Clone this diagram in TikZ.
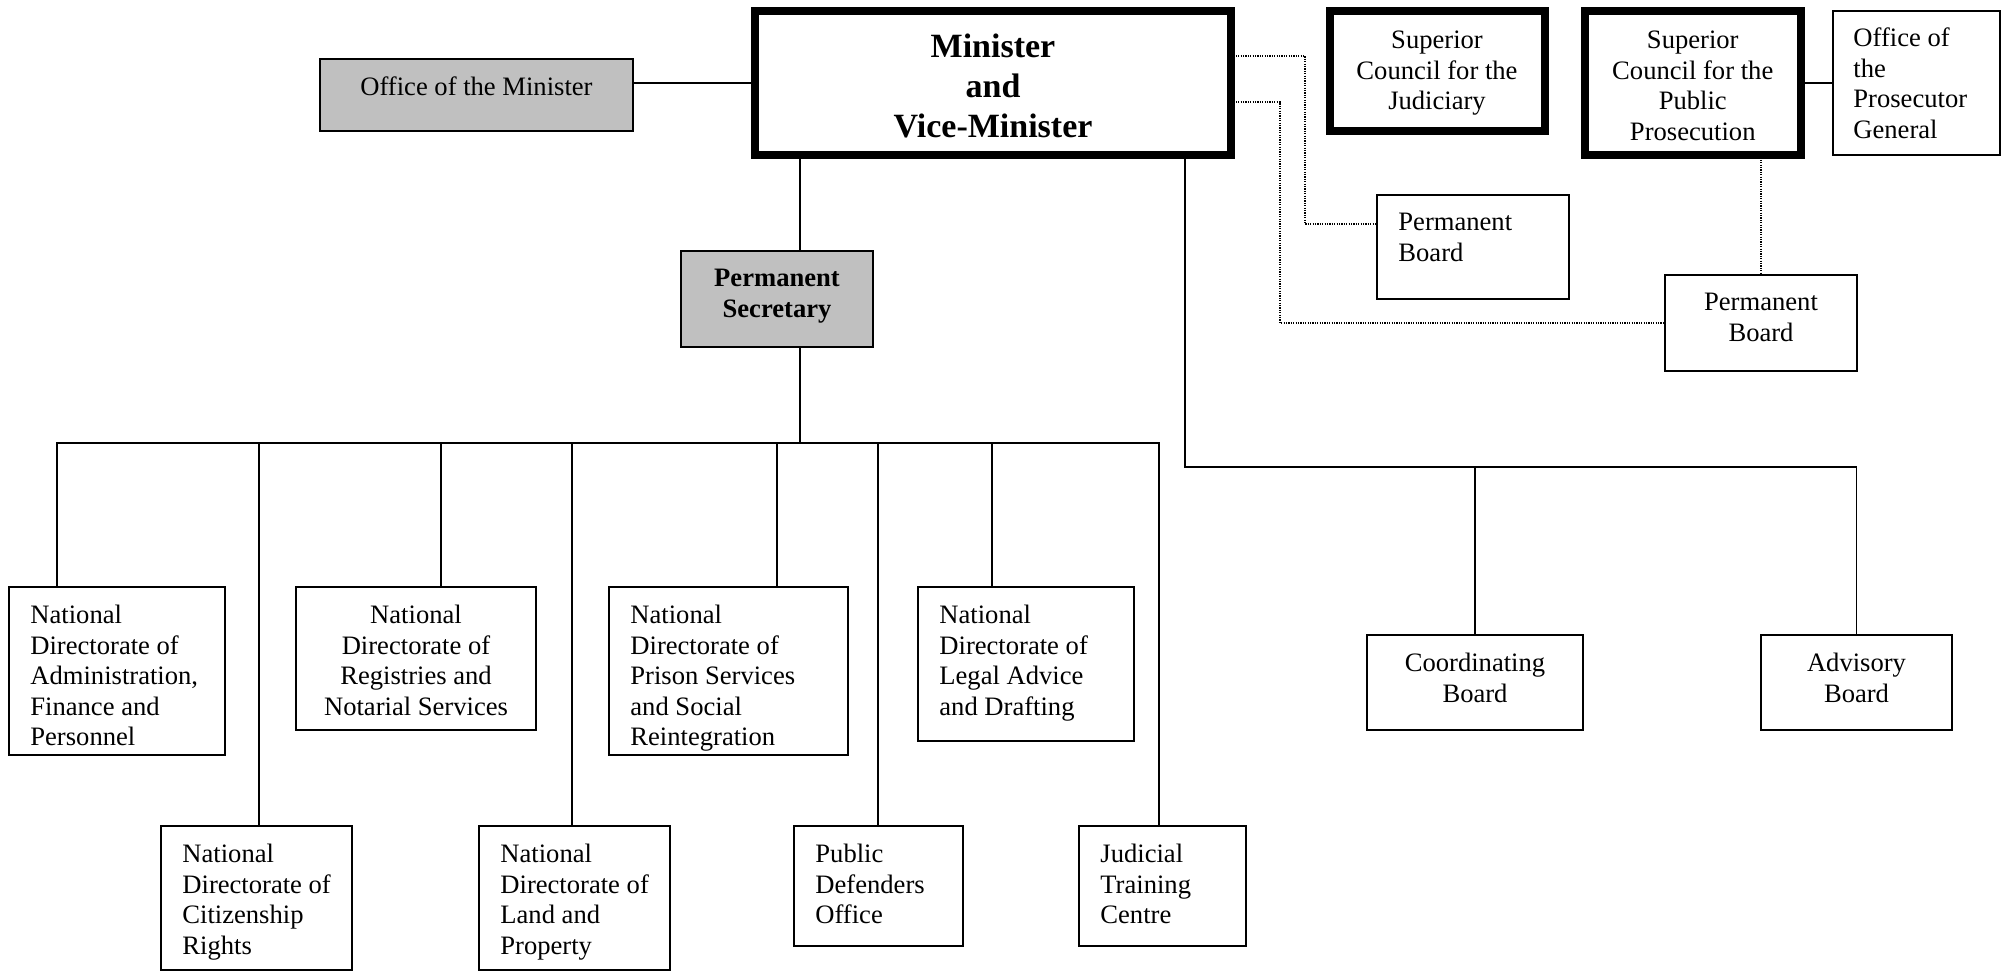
\documentclass[tikz,border=0pt]{standalone}
\usepackage{fontspec}
\setmainfont{Liberation Serif}
\usetikzlibrary{fit,calc}
\definecolor{boxgray}{RGB}{192,192,192}
\newcommand{\nf}{\fontsize{13.3pt}{15.3pt}\selectfont}
\newcommand{\mf}{\fontsize{17pt}{19.8pt}\selectfont\bfseries}
\begin{document}
\begin{tikzpicture}[x=0.5pt,y=-0.5pt,
  thinbox/.style={draw, line width=0.75pt, inner sep=0pt, outer sep=0pt},
  thickbox/.style={draw, line width=4pt, inner sep=0pt, outer sep=0pt},
  graybox/.style={thinbox, fill=boxgray},
  link/.style={line width=0.75pt},
  dotlink/.style={line width=0.6pt, dash pattern=on 0.6pt off 0.6pt},
  txtL/.style={anchor=north west, align=left, inner sep=0pt, font=\nf},
  txtC/.style={anchor=north, align=center, inner sep=0pt, font=\nf}]
\useasboundingbox (0,0) rectangle (2002,972);

% boxes
\node[thickbox, fit={(755,11) (1231,155)}] (min) {};
\node[graybox, fit={(320,59) (633,131)}] (om) {};
\node[thickbox, fit={(1329.5,11) (1544.5,131.5)}] (scj) {};
\node[thickbox, fit={(1585,11) (1800.5,155)}] (scpp) {};
\node[thinbox, fit={(1833,11) (2000,155)}] (opg) {};
\node[thinbox, fit={(1377,195) (1569,299)}] (pb1) {};
\node[thinbox, fit={(1665,275) (1857,371)}] (pb2) {};
\node[graybox, fit={(681,251) (873,347)}] (ps) {};
\node[thinbox, fit={(9,587) (225,755)}] (adm) {};
\node[thinbox, fit={(296,587) (536,730)}] (reg) {};
\node[thinbox, fit={(609,587) (848,755)}] (pri) {};
\node[thinbox, fit={(918,587) (1134,741)}] (leg) {};
\node[thinbox, fit={(161,826) (352,970)}] (cit) {};
\node[thinbox, fit={(479,826) (670,970)}] (lan) {};
\node[thinbox, fit={(794,826) (963,946)}] (pd) {};
\node[thinbox, fit={(1079,826) (1246,946)}] (jtc) {};
\node[thinbox, fit={(1367,635) (1583,730)}] (cb) {};
\node[thinbox, fit={(1761,635) (1952,730)}] (ab) {};

% texts
\node[txtC, font=\mf] (min-t) at ([yshift=-11.5pt]min.north) {Minister\\and\\Vice-Minister};
\node[txtC] (om-t) at ([yshift=-8.8pt]om.north) {Office of the Minister};
\node[txtC] (scj-t) at ([yshift=-9.8pt]scj.north) {Superior\\Council for the\\Judiciary};
\node[txtC] (scpp-t) at ([yshift=-9.8pt]scpp.north) {Superior\\Council for the\\Public\\Prosecution};
\node[txtL] (opg-t) at ([xshift=10pt,yshift=-8.3pt]opg.north west) {Office of\\the\\Prosecutor\\General};
\node[txtL] (pb1-t) at ([xshift=10.5pt,yshift=-8.8pt]pb1.north west) {Permanent\\Board};
\node[txtC] (pb2-t) at ([yshift=-8.8pt]pb2.north) {Permanent\\Board};
\node[txtC, font=\nf\bfseries] (ps-t) at ([yshift=-8.8pt]ps.north) {Permanent\\Secretary};
\node[txtL] (adm-t) at ([xshift=10.5pt,yshift=-8.8pt]adm.north west) {National\\Directorate of\\Administration,\\Finance and\\Personnel};
\node[txtC] (reg-t) at ([yshift=-8.8pt]reg.north) {National\\Directorate of\\Registries and\\Notarial Services};
\node[txtL] (pri-t) at ([xshift=10.5pt,yshift=-8.8pt]pri.north west) {National\\Directorate of\\Prison Services\\and Social\\Reintegration};
\node[txtL] (leg-t) at ([xshift=10.5pt,yshift=-8.8pt]leg.north west) {National\\Directorate of\\Legal Advice\\and Drafting};
\node[txtL] (cit-t) at ([xshift=10.5pt,yshift=-8.8pt]cit.north west) {National\\Directorate of\\Citizenship\\Rights};
\node[txtL] (lan-t) at ([xshift=10.5pt,yshift=-8.8pt]lan.north west) {National\\Directorate of\\Land and\\Property};
\node[txtL] (pd-t) at ([xshift=10.5pt,yshift=-8.8pt]pd.north west) {Public\\Defenders\\Office};
\node[txtL] (jtc-t) at ([xshift=10.5pt,yshift=-8.8pt]jtc.north west) {Judicial\\Training\\Centre};
\node[txtC] (cb-t) at ([yshift=-8.8pt]cb.north) {Coordinating\\Board};
\node[txtC] (ab-t) at ([yshift=-8.8pt]ab.north) {Advisory\\Board};

% solid connectors
\draw[link] ([yshift=6pt]om.east) -- ([yshift=6pt]om.east -| min.west);
\draw[link] (scpp.east |- 0,83) -- (opg.west |- 0,83);

\coordinate (stem) at (800,443);
\coordinate (dA) at (57,443);
\coordinate (dB) at (259,443);
\coordinate (dC) at (441,443);
\coordinate (dD) at (572,443);
\coordinate (dE) at (777,443);
\coordinate (dF) at (878,443);
\coordinate (dG) at (992,443);
\coordinate (dH) at (1159,443);
\draw[link] (stem |- min.south) -- (stem |- ps.north);
\draw[link] (stem |- ps.south) -- (stem);
\draw[link] (dA |- adm.north) -- (dA) -- (dH) -- (dH |- jtc.north);
\foreach \c/\n in {dB/cit, dC/reg, dD/lan, dE/pri, dF/pd, dG/leg}
  \draw[link] (\c) -- (\c |- \n.north);

\coordinate (rb) at (1185,467);
\draw[link] (rb |- min.south) -- (rb) -| (ab.north);
\draw[link] (rb -| cb.north) -- (cb.north);

% dotted connectors
\coordinate (d1) at (1305,56);
\coordinate (d2) at (1280,102);
\draw[dotlink] (d1 -| min.east) -- (d1) |- ([yshift=11.5pt]pb1.west);
\draw[dotlink] (d2 -| min.east) -- (d2) |- (pb2.west);
\draw[dotlink] (scpp.south -| pb2.north) -- (pb2.north);
\end{tikzpicture}
\end{document}
